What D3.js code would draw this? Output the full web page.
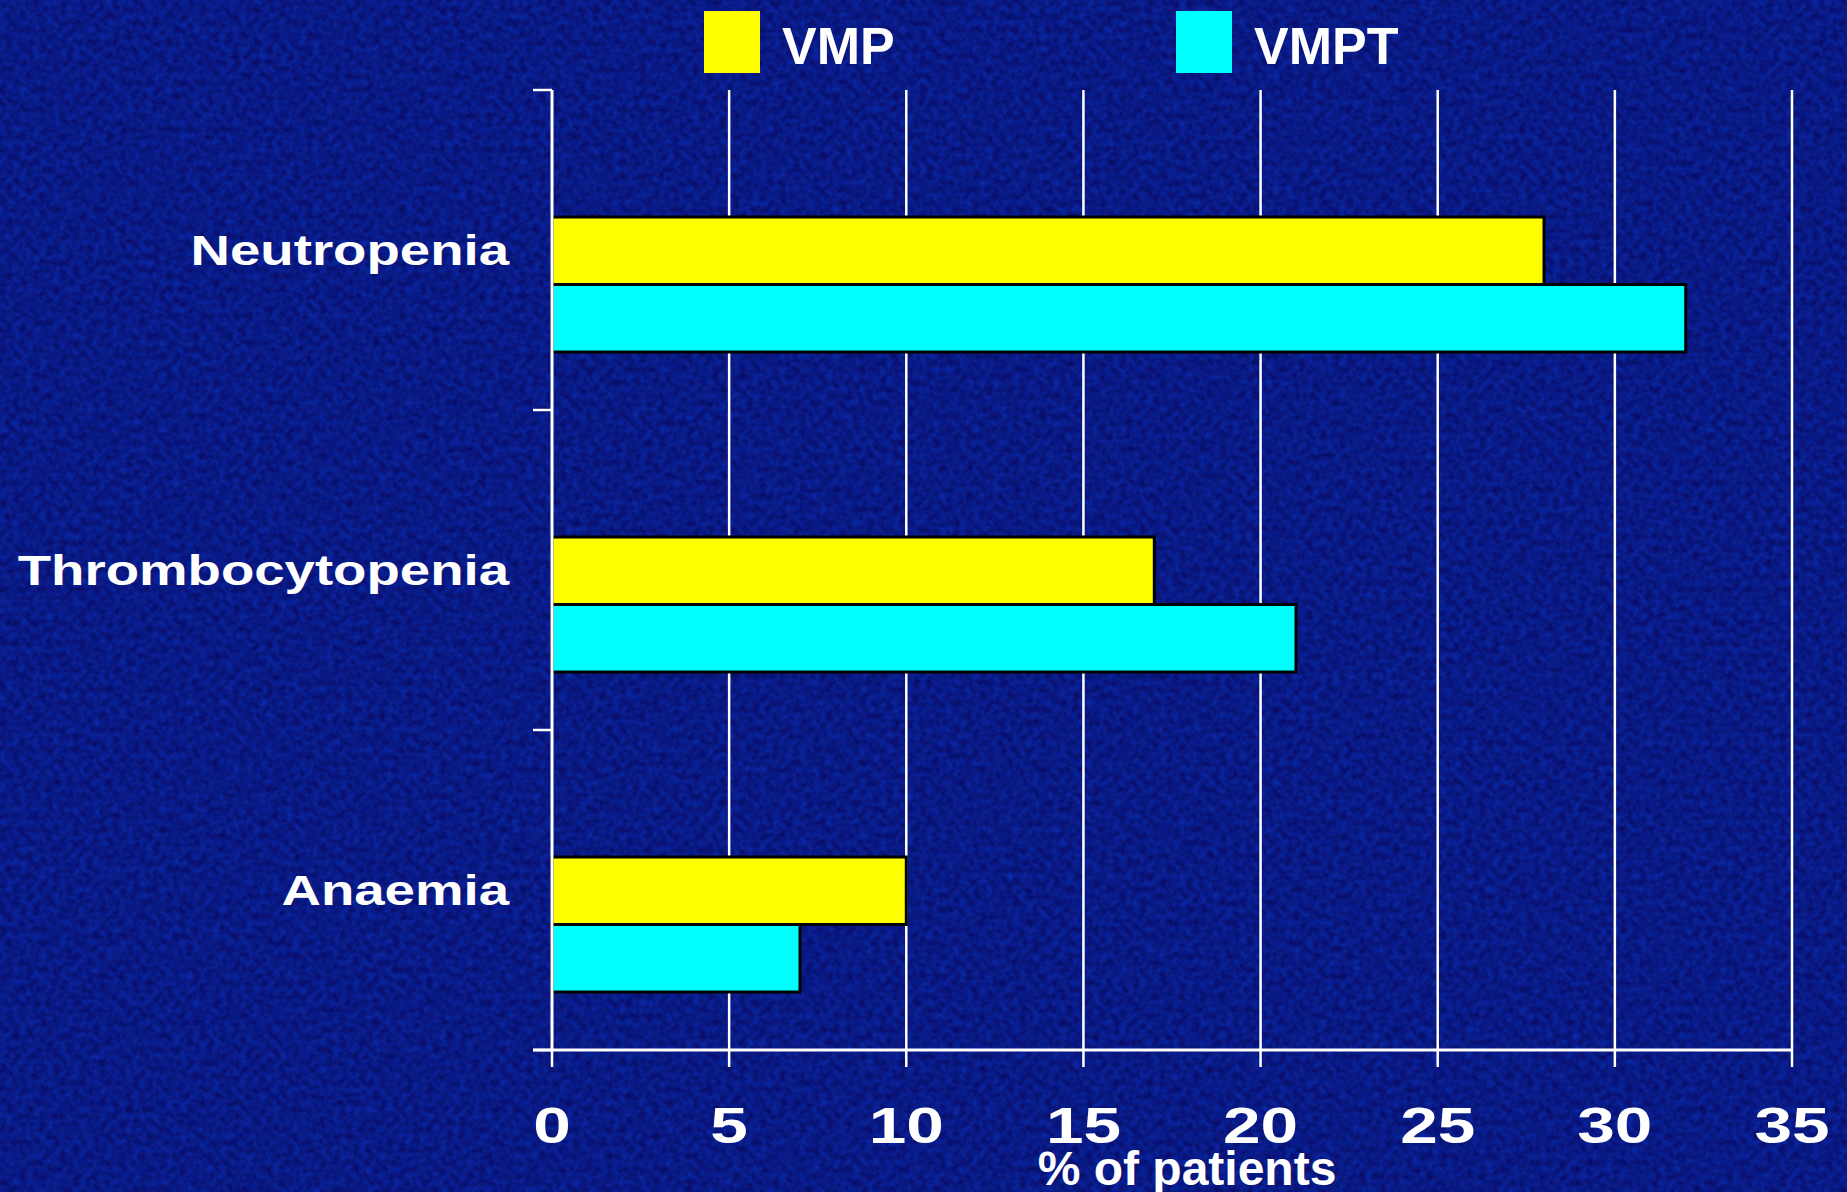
<!DOCTYPE html>
<html><head><meta charset="utf-8">
<script src="https://cdn.jsdelivr.net/npm/d3@7"></script>
<style>html,body{margin:0;padding:0;background:#0a1b88;}svg{display:block;}</style>
</head><body>
<script>
const categories = ["Neutropenia", "Thrombocytopenia", "Anaemia"];
const seriesNames = ["VMP", "VMPT"];
const vmpValues = [28, 17, 10];
const vmptValues = [32, 21, 7];
const xTicks = [0, 5, 10, 15, 20, 25, 30, 35];
const axisTitle = "% of patients";
const colors = {VMP: "#ffff00", VMPT: "#00ffff"};

const W = 1847, H = 1192;
const svg = d3.select("body").append("svg").attr("width", W).attr("height", H);

// background with subtle noise texture
const defs = svg.append("defs");
const f = defs.append("filter").attr("id", "noise").attr("x", 0).attr("y", 0).attr("width", "100%").attr("height", "100%")
  .attr("color-interpolation-filters", "sRGB");
f.append("feTurbulence").attr("type", "fractalNoise").attr("baseFrequency", 0.15).attr("numOctaves", 2).attr("seed", 7).attr("result", "t");
f.append("feColorMatrix").attr("in", "t").attr("type", "matrix")
  .attr("values", "0 0 0 0 0.035  0.16 0 0 0 0.02  0.36 0 0 0 0.34  0 0 0 0 1");
svg.append("rect").attr("width", W).attr("height", H).attr("fill", "#0a1b88");
svg.append("rect").attr("width", W).attr("height", H).attr("filter", "url(#noise)");

const x = d3.scaleLinear().domain([0, 35]).range([552, 1792]);
const y0 = d3.scaleBand().domain(categories).range([90, 1050]).paddingInner(0).paddingOuter(0);
const y1 = d3.scaleBand().domain(seriesNames).range([127, 262]);

const data = categories.map((c, i) => ({cat: c, VMP: vmpValues[i], VMPT: vmptValues[i]}));

// gridlines
svg.append("g").selectAll("line").data(xTicks.filter(d => d > 0)).join("line")
  .attr("x1", d => x(d)).attr("x2", d => x(d)).attr("y1", 90).attr("y2", 1050)
  .attr("stroke", "#ffffff").attr("stroke-width", 2.5);

// bars
const g = svg.append("g");
data.forEach(d => {
  seriesNames.forEach(s => {
    g.append("rect")
      .attr("x", x(0)).attr("y", y0(d.cat) + y1(s))
      .attr("width", x(d[s]) - x(0)).attr("height", y1.bandwidth())
      .attr("fill", colors[s]).attr("stroke", "#000").attr("stroke-width", 3);
  });
});

// y axis line and ticks
const yAxisG = svg.append("g");
yAxisG.append("line").attr("x1", x(0)).attr("x2", x(0)).attr("y1", 90).attr("y2", 1050)
  .attr("stroke", "#fff").attr("stroke-width", 3);
const yTickPos = categories.map(c => y0(c)).concat([y0.range()[1]]);
yAxisG.selectAll("line.t").data(yTickPos).join("line").attr("class", "t")
  .attr("x1", x(0) - 19).attr("x2", x(0)).attr("y1", d => d).attr("y2", d => d)
  .attr("stroke", "#fff").attr("stroke-width", 2.5);

// x axis line and ticks
const xAxisG = svg.append("g");
xAxisG.append("line").attr("x1", x(0) - 19).attr("x2", x(35)).attr("y1", 1050).attr("y2", 1050)
  .attr("stroke", "#fff").attr("stroke-width", 3);
xAxisG.selectAll("line.t").data(xTicks).join("line").attr("class", "t")
  .attr("x1", d => x(d)).attr("x2", d => x(d)).attr("y1", 1050).attr("y2", 1067)
  .attr("stroke", "#fff").attr("stroke-width", 2.5);
xAxisG.selectAll("g.lab").data(xTicks).join("g").attr("class", "lab")
  .attr("transform", d => `translate(${x(d)},1143) scale(1.35,1)`)
  .append("text").attr("text-anchor", "middle")
  .attr("font-family", "Liberation Sans, Arial, sans-serif").attr("font-weight", "bold")
  .attr("font-size", 50).attr("fill", "#fff").text(d => d);

svg.append("text").attr("x", 1187).attr("y", 1185).attr("text-anchor", "middle")
  .attr("font-family", "Liberation Sans, Arial, sans-serif").attr("font-weight", "bold")
  .attr("font-size", 48).attr("fill", "#fff").text(axisTitle);

// category labels
svg.append("g").selectAll("g").data(categories).join("g")
  .attr("transform", d => `translate(509,${y0(d) + y0.bandwidth() / 2 + 15}) scale(1.3,1)`)
  .append("text").attr("text-anchor", "end")
  .attr("font-family", "Liberation Sans, Arial, sans-serif").attr("font-weight", "bold")
  .attr("font-size", 42).attr("fill", "#fff").text(d => d);

// legend
const legendX = {VMP: 704, VMPT: 1176};
const leg = svg.append("g");
seriesNames.forEach(s => {
  leg.append("rect").attr("x", legendX[s]).attr("y", 11).attr("width", 56).attr("height", 62).attr("fill", colors[s]);
  leg.append("text").attr("x", legendX[s] + 78).attr("y", 64)
    .attr("font-family", "Liberation Sans, Arial, sans-serif").attr("font-weight", "bold")
    .attr("font-size", 52).attr("fill", "#fff").text(s);
});
</script>
</body></html>
